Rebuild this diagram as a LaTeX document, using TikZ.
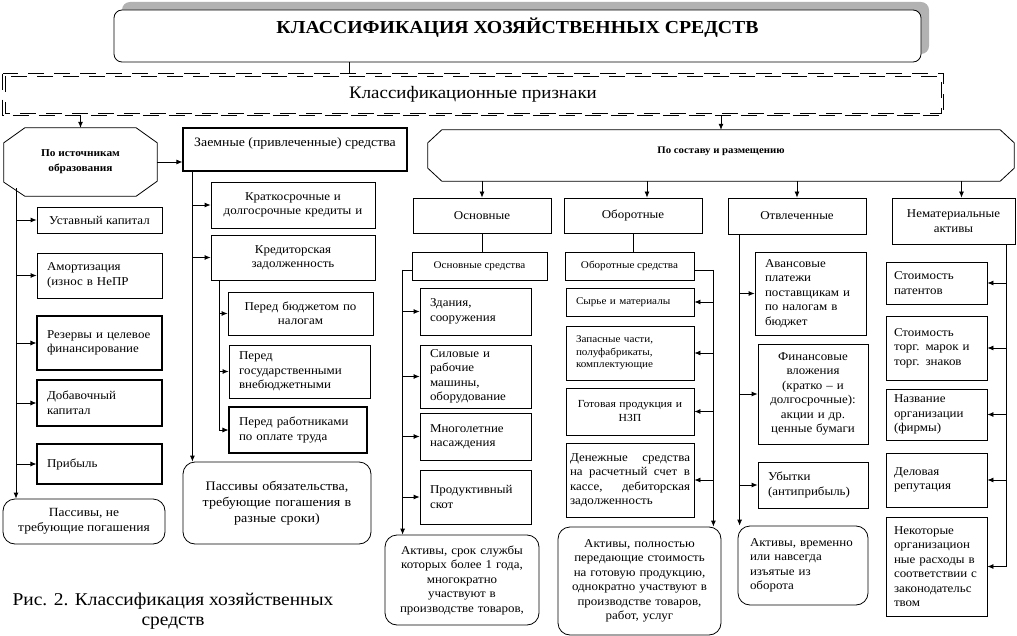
\documentclass[tikz,border=0pt]{standalone}
\usepackage{fontspec}
\setmainfont{Liberation Serif}[FakeStretch=1.08]
\usepackage{tikz}
\usetikzlibrary{arrows,arrows.meta,shadows}

\begin{document}
\begin{tikzpicture}[x=1pt, y=-1pt,
		box/.style={draw, line width=0.8pt, align=center, inner xsep=4pt, inner ysep=1pt, font=\fontsize{12}{14.5}\selectfont},
		lbox/.style={box, align=left, inner xsep=10pt},
		rbox/.style={box, rounded corners=12pt},
		dline/.style={line width=0.7pt, dash pattern=on 16pt off 10pt},
		small/.style={font=\fontsize{10.3}{12.5}\selectfont},
		arr/.style={-{Latex[length=6pt,width=5pt]}, line width=0.8pt},
		line/.style={line width=0.8pt}]
		\useasboundingbox (0,0) rectangle (1017,636);

		% top
		\node[box, rounded corners=8pt, fill=white, drop shadow={shadow xshift=8pt, shadow yshift=8pt, fill=gray!60, opacity=1}, minimum width=807pt, minimum height=52pt, text depth=20pt, font=\bfseries\fontsize{18.3}{21}\selectfont] (title) at (517.5,36) {КЛАССИФИКАЦИЯ ХОЗЯЙСТВЕННЫХ СРЕДСТВ};
		\node[minimum width=938pt, minimum height=39pt, font=\fontsize{17.5}{20}\selectfont] (priznaki) at (473,94.5) {Классификационные признаки};
		\draw[dline] ([shift={(-1.2pt,1.2pt)}]priznaki.north west) rectangle ([shift={(1.2pt,-1.2pt)}]priznaki.south east);
		\draw[dline] ([shift={(1.2pt,-1.2pt)}]priznaki.north west) rectangle ([shift={(-1.2pt,1.2pt)}]priznaki.south east);

		% po istochnikam
		\node[minimum width=153pt, minimum height=68pt, align=center, font=\bfseries\fontsize{10.5}{15}\selectfont] (src) at (80.5,162) {По источникам\\образования};
		\draw[line] ([xshift=21pt]src.north west) -- ([xshift=-21pt]src.north east) -- ([yshift=-15pt]src.north east) -- ([yshift=15pt]src.south east) -- ([xshift=-21pt]src.south east) -- ([xshift=21pt]src.south west) -- ([yshift=14pt]src.south west) -- ([yshift=-15pt]src.north west) -- cycle;
		\node[box, line width=1.2pt, minimum width=224pt, minimum height=43pt, text depth=14pt, font=\fontsize{12.8}{15}\selectfont] (zaem) at (295,149.5) {Заемные (привлеченные) средства};

		\node[box, minimum width=125pt, minimum height=26pt] (ustav) at (99.5,220) {Уставный капитал};
		\node[lbox, text width=105pt, minimum height=45pt] (amort) at (99.5,275.5) {Амортизация\\(износ в НеПР};
		\node[lbox, line width=1.1pt, text width=105pt, minimum height=54pt] (rezerv) at (99.5,343) {Резервы и целевое\\финансирование};
		\node[lbox, line width=1.1pt, text width=105pt, minimum height=46pt] (dobav) at (99.5,403) {Добавочный\\капитал};
		\node[lbox, line width=1.1pt, text width=105pt, minimum height=40pt] (pribyl) at (99.5,464) {Прибыль};
		\node[rbox, minimum width=162pt, minimum height=45pt, font=\fontsize{12.5}{15}\selectfont] (passiv1) at (84,521.5) {Пассивы, не\\требующие погашения};

		\node[box, text width=156pt, minimum height=46pt] (kratk) at (293,205) {Краткосрочные и\\долгосрочные кредиты и};
		\node[box, text width=156pt, minimum height=45pt] (kredit) at (293,257.5) {Кредиторская\\задолженность};
		\node[box, text width=137pt, minimum height=43pt] (budget) at (300.5,313.5) {Перед бюджетом по\\налогам};
		\node[lbox, text width=121pt, minimum height=53pt] (gos) at (299.5,371.5) {Перед\\государственными\\внебюджетными};
		\node[lbox, line width=1.1pt, text width=118pt, minimum height=46pt] (rabot) at (298,430) {Перед работниками\\по оплате труда};
		\node[rbox, text width=180pt, minimum height=82pt, font=\fontsize{13}{16}\selectfont] (passiv2) at (277,503) {Пассивы обязательства,\\требующие погашения в\\разные сроки)};

		% po sostavu
		\node[minimum width=586pt, minimum height=51pt, text depth=11pt, font=\bfseries\fontsize{10}{12}\selectfont] (sost) at (721,155.5) {По составу и размещению};
		\draw[line] ([xshift=14pt]sost.north west) -- ([xshift=-14pt]sost.north east) -- ([yshift=-13pt]sost.north east) -- ([yshift=13pt]sost.south east) -- ([xshift=-14pt]sost.south east) -- ([xshift=14pt]sost.south west) -- ([yshift=13pt]sost.south west) -- ([yshift=-13pt]sost.north west) -- cycle;

		\node[box, minimum width=138pt, minimum height=35pt] (osn) at (482,215.5) {Основные};
		\node[box, minimum width=138pt, minimum height=35pt] (obor) at (633,215.5) {Оборотные};
		\node[box, minimum width=138pt, minimum height=36pt] (otvl) at (797,216) {Отвлеченные};
		\node[box, text width=115pt, minimum height=46pt] (nemat) at (953.5,221) {Нематериальные\\активы};

		\node[box, small, minimum width=135pt, minimum height=28pt] (osnsr) at (479.5,266) {Основные средства};
		\node[box, small, minimum width=129pt, minimum height=28pt] (oborsr) at (629.5,266) {Оборотные средства};

		\node[lbox, text width=91pt, minimum height=47pt] (zdan) at (475.5,311.5) {Здания,\\сооружения};
		\node[lbox, text width=91pt, minimum height=63pt] (silov) at (475.5,376.5) {Силовые и\\рабочие\\машины,\\оборудование};
		\node[lbox, text width=91pt, minimum height=47pt] (mnogo) at (475.5,436.5) {Многолетние\\насаждения};
		\node[lbox, text width=91pt, minimum height=54pt] (skot) at (475.5,497) {Продуктивный\\скот};
		\node[rbox, text width=146pt, minimum height=90pt] (aktiv1) at (462,580) {Активы, срок службы\\которых более 1 года,\\многократно\\участвуют в\\производстве товаров,};

		\node[lbox, small, text width=108pt, minimum height=28pt] (syrye) at (630,302) {Сырье и материалы};
		\node[lbox, small, text width=108pt, minimum height=54pt] (zapas) at (630,353) {Запасные части,\\полуфабрикаты,\\комплектующие};
		\node[box, text width=120pt, minimum height=47pt, font=\fontsize{10.8}{14}\selectfont] (gotov) at (630,411.5) {Готовая продукция и\\НЗП};
		\node[lbox, inner xsep=4pt, text width=120pt, minimum height=74pt] (denezh) at (630,480) {Денежные\hfill средства\\на\hfill расчетный\hfill счет\hfill в\\кассе,\hfill дебиторская\\задолженность};
		\node[rbox, text width=155pt, minimum height=108pt] (aktiv2) at (639.5,581) {Активы, полностью\\передающие стоимость\\на готовую продукцию,\\однократно участвуют в\\производстве товаров,\\работ, услуг};

		\node[lbox, text width=91pt, minimum height=83pt] (avans) at (810.5,293.5) {Авансовые\\платежи\\поставщикам и\\по налогам в\\бюджет};
		\node[box, text width=102pt, minimum height=100pt] (finans) at (813,394) {Финансовые\\вложения\\(кратко – и\\долгосрочные):\\акции и др.\\ценные бумаги};
		\node[lbox, text width=90pt, minimum height=46pt] (ubytki) at (813,485) {Убытки\\(антиприбыль)};
		\node[rbox, align=left, inner xsep=12pt, text width=106pt, minimum height=79pt] (aktiv3) at (803,565.5) {Активы, временно\\или навсегда\\изъятые из\\оборота};

		\node[lbox, inner xsep=8pt, text width=85pt, minimum height=42pt] (patent) at (936.5,283) {Стоимость\\патентов};
		\node[lbox, inner xsep=8pt, text width=85pt, minimum height=64pt] (marki) at (936.5,348) {Стоимость\\торг. марок и\\торг. знаков};
		\node[lbox, inner xsep=8pt, text width=85pt, minimum height=51pt] (nazv) at (936.5,414.5) {Название\\организации\\(фирмы)};
		\node[lbox, inner xsep=8pt, text width=85pt, minimum height=54pt] (delov) at (936.5,480) {Деловая\\репутация};
		\node[lbox, inner xsep=8pt, text width=85pt, minimum height=99pt] (nekot) at (936.5,566.5) {Некоторые\\организацион\\ные расходы в\\соответствии с\\законодательс\\твом};

		\node[align=center, font=\fontsize{18}{20}\selectfont] (caption) at (173,611) {Рис. 2. Классификация хозяйственных\\средств};

		% connectors
		\draw[line] ([xshift=-168pt]title.south) -- ([xshift=-168pt,yshift=1.2pt]title.south |- priznaki.north);
		\draw[arr] ([yshift=-1.2pt]priznaki.south -| src.north) -- (src.north);
		\draw[arr] ([yshift=-1.2pt]priznaki.south -| sost.north) -- (sost.north);
		\draw[arr] (src.east) -- (src.east -| zaem.west);

		\coordinate (sbus) at (16,188);
		\draw[arr] (sbus) -- (sbus |- passiv1.north);
		\draw[arr] (sbus |- ustav.west) -- (ustav.west);
		\draw[arr] (sbus |- amort.west) -- (amort.west);
		\draw[arr] (sbus |- rezerv.west) -- (rezerv.west);
		\draw[arr] (sbus |- dobav.west) -- (dobav.west);
		\draw[arr] (sbus |- pribyl.west) -- (pribyl.west);

		\coordinate (zbus) at ([xshift=10pt]zaem.south west);
		\draw[arr] (zbus) -- (zbus |- passiv2.north);
		\draw[arr] (zbus |- kratk.west) -- (kratk.west);
		\draw[arr] (zbus |- kredit.west) -- (kredit.west);

		\coordinate (kbus) at ([xshift=9pt]kredit.south west);
		\draw[arr] (kbus) |- (rabot.west);
		\draw[arr] (kbus |- budget.west) -- (budget.west);
		\draw[arr] (kbus |- gos.west) -- (gos.west);

		\draw[arr] (sost.south -| osn.north) -- (osn.north);
		\draw[arr] ([xshift=14pt]obor.north |- sost.south) -- ([xshift=14pt]obor.north);
		\draw[arr] (sost.south -| otvl.north) -- (otvl.north);
		\draw[arr] ([xshift=8pt]nemat.north |- sost.south) -- ([xshift=8pt]nemat.north);

		\draw[line] (osn.south) -- (osn.south |- osnsr.north);
		\draw[line] (obor.south) -- (obor.south |- oborsr.north);

		\coordinate (obus) at ([xshift=-9pt, yshift=-4pt]osnsr.west);
		\draw[line] ([yshift=-4pt]osnsr.west) -- (obus);
		\draw[arr] (obus) -- (obus |- aktiv1.north);
		\draw[arr] (obus |- zdan.west) -- (zdan.west);
		\draw[arr] (obus |- silov.west) -- (silov.west);
		\draw[arr] (obus |- mnogo.west) -- (mnogo.west);
		\draw[arr] (obus |- skot.west) -- (skot.west);

		\coordinate (bbus) at ([xshift=19pt, yshift=-4pt]oborsr.east);
		\draw[line] ([yshift=-4pt]oborsr.east) -- (bbus);
		\draw[arr] (bbus) -- (bbus |- aktiv2.north);
		\draw[arr] (bbus |- syrye.east) -- (syrye.east);
		\draw[arr] (bbus |- zapas.east) -- (zapas.east);
		\draw[arr] (bbus |- gotov.east) -- (gotov.east);
		\draw[arr] (bbus |- denezh.east) -- (denezh.east);

		\coordinate (vbus) at ([xshift=12pt]otvl.south west);
		\draw[arr] (vbus) -- (vbus |- aktiv3.north);
		\draw[arr] (vbus |- avans.west) -- (avans.west);
		\draw[arr] (vbus |- finans.west) -- (finans.west);
		\draw[arr] (vbus |- ubytki.west) -- (ubytki.west);

		\coordinate (nbus) at ([xshift=-9pt]nemat.south east);
		\draw[arr] (nbus) |- (nekot.east);
		\draw[arr] (nbus |- patent.east) -- (patent.east);
		\draw[arr] (nbus |- marki.east) -- (marki.east);
		\draw[arr] (nbus |- nazv.east) -- (nazv.east);
		\draw[arr] (nbus |- delov.east) -- (delov.east);
	\end{tikzpicture}
\end{document}
